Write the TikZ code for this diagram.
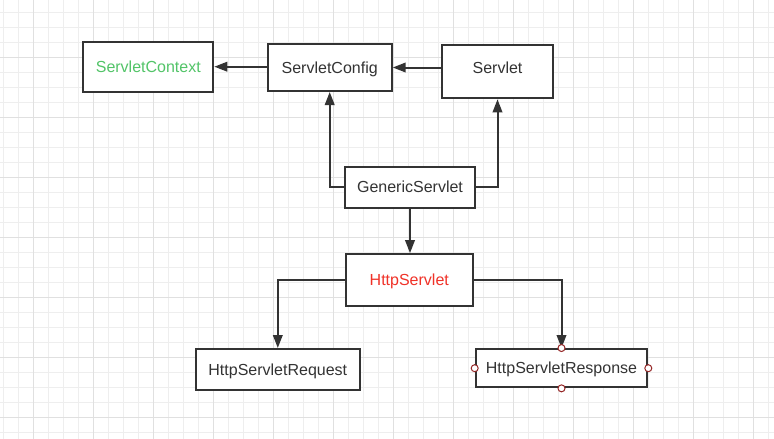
\documentclass[tikz,border=0pt]{standalone}
\usepackage{fontspec}
\setmainfont{Liberation Sans}
\usetikzlibrary{arrows.meta}
\definecolor{ink}{RGB}{51,51,51}
\definecolor{gminor}{RGB}{238,238,238}
\definecolor{gmajor}{RGB}{224,224,224}
\definecolor{okgreen}{RGB}{82,196,104}
\definecolor{alertred}{RGB}{240,50,40}
\definecolor{portred}{RGB}{150,40,40}
\tikzset{
  box/.style={draw=ink, line width=2pt, fill=white, inner sep=0pt, text=ink,
    text height=11.5pt, text depth=0pt,
    font=\fontsize{16}{19}\selectfont},
  arr/.style={draw=ink, line width=2pt, -{Triangle[length=13pt,width=9.5pt]}},
  port/.style={circle, draw=portred, fill=white, line width=1pt, inner sep=0pt, minimum size=7pt}
}
\begin{document}
\begin{tikzpicture}[x=1pt,y=-1pt]
\useasboundingbox (0,0) rectangle (774,439);
\fill[white] (0,0) rectangle (774,439);
% grid
\foreach \x in {3,18,...,774} \draw[gminor, line width=1pt] (\x,0) -- (\x,439);
\foreach \y in {12.3,27.3,...,439} \draw[gminor, line width=1pt] (0,\y) -- (774,\y);
\foreach \x in {33,93,...,774} \draw[gmajor, line width=1pt] (\x,0) -- (\x,439);
\foreach \y in {57.3,117.3,...,439} \draw[gmajor, line width=1pt] (0,\y) -- (774,\y);
% nodes
\node[box, minimum width=130pt, minimum height=50pt, text=okgreen] (ctx) at (148.3,66.7) {ServletContext};
\node[box, minimum width=124pt, minimum height=47pt] (cfg) at (329.7,67.5) {ServletConfig};
\node[box, minimum width=111.6pt, minimum height=53.6pt, text depth=8pt] (srv) at (497.5,71.5) {Servlet};
\node[box, minimum width=130pt, minimum height=41pt] (gen) at (410,187.2) {GenericServlet};
\node[box, minimum width=127pt, minimum height=51.7pt, text=alertred] (http) at (409.3,280) {HttpServlet};
\node[box, minimum width=164.3pt, minimum height=41pt] (req) at (277.8,369.5) {HttpServletRequest};
\node[box, minimum width=171.6pt, minimum height=38.3pt] (resp) at (561.5,368.2) {HttpServletResponse};
% connectors
\draw[arr] (cfg.west |- ctx.east) -- (ctx.east);
\draw[arr] (srv.west |- cfg.east) -- (cfg.east);
\draw[arr] (gen.west) -| (cfg.south);
\draw[arr] (gen.east) -| (srv.south);
\draw[arr] (gen.south) -- (gen.south |- http.north);
\draw[arr] (http.west) -| (req.north);
\draw[arr] (http.east) -| (resp.north);
% ports
\node[port] (p1) at (resp.north) {};
\node[port] (p2) at (resp.south) {};
\node[port] (p3) at (resp.west) {};
\node[port] (p4) at (resp.east) {};
\end{tikzpicture}
\end{document}
